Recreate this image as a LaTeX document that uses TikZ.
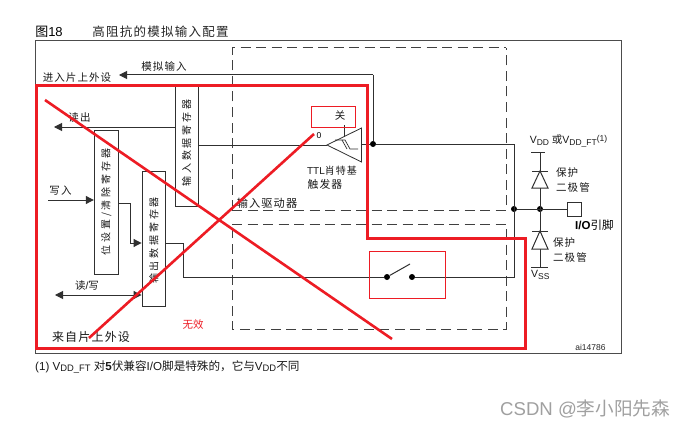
\documentclass[tikz,border=0pt]{standalone}
\usepackage{fontspec}
\setmainfont{Liberation Sans}
\newfontfamily\cjk[LetterSpace=10]{Noto Sans CJK SC}
\newfontfamily\cjkw[LetterSpace=28]{Noto Sans CJK SC}
\newfontfamily\cjkt{Noto Sans CJK SC}
\usetikzlibrary{arrows.meta}
\definecolor{redmark}{HTML}{ED1C24}
\definecolor{wire}{HTML}{303030}
\definecolor{dashc}{HTML}{404040}
\definecolor{wm}{HTML}{A0A0A0}
\tikzset{
  x=1pt,y=-1pt,
  wireline/.style={draw=wire,line width=1pt},
  arrowline/.style={wireline,-{Triangle[length=8pt,width=8pt]}},
  dualline/.style={wireline,{Triangle[length=8pt,width=8pt]}-{Triangle[length=8pt,width=8pt]}},
  dashbox/.style={draw=dashc,line width=1pt,dash pattern=on 10pt off 5.5pt},
  regbox/.style={draw=wire,line width=1pt,fill=white,rotate=90,inner sep=0pt,align=center},
  lab/.style={inner sep=0pt,font=\fontsize{10.5}{12}\selectfont\cjk,text=black!90},
  regl/.style={font=\fontsize{10}{12}\selectfont\cjkw,text=black!90},
  junc/.style={circle,fill=black,inner sep=0pt,minimum size=6pt},
  redline/.style={draw=redmark,line width=3pt,line join=miter},
}
\begin{document}
\begin{tikzpicture}
\useasboundingbox (0,0) rectangle (686,428);
\fill[white] (0,0) rectangle (686,428);
% title
\node[inner sep=0pt,font=\fontsize{13}{15}\selectfont] (figno) at (49,32) {{\cjkt 图}18};
\node[inner sep=0pt,font=\fontsize{12.5}{14}\selectfont\cjk,text=black!85] (title) at (160.5,32) {高阻抗的模拟输入配置};
% frame
\node[draw=black!70,line width=1pt,minimum width=586pt,minimum height=312pt,inner sep=0pt] (frame) at (328,197) {};
% dashed boxes
\draw[dashbox] (232,224) -- (506,224) -- (506,329) -- (232,329) -- cycle;
\draw[dashbox] (232,210) -- (232,48) -- (506,48);
\draw[dashbox] (232,210) -- (506,210) -- (506,48);
% registers
\node[regbox,regl,minimum width=120pt,minimum height=23pt] (inreg) at (186.5,146) {\hspace*{6pt}输入数据寄存器};
\node[regbox,regl,minimum width=144pt,minimum height=24pt] (setreg) at (106.3,202) {位设置/清除寄存器};
\node[regbox,regl,minimum width=135pt,minimum height=23.5pt] (outreg) at (153.8,238.5) {输出数据寄存器\hspace*{4pt}};
% coordinates
\coordinate (analogC) at (373,75);
\coordinate (readL) at (54,127);
\coordinate (writeL) at (48,200);
\coordinate (rwL) at (55,295);
\coordinate (setTurn) at (130,203);
\coordinate (setTurn2) at (130,243);
\coordinate (outTurn) at (183,243);
\coordinate (outTurn2) at (183,277);
\coordinate (busTop) at (514,144);
\coordinate (busBot) at (514,277);
\coordinate (analogEnd) at (119,75);
% junctions
\node[junc] (j1) at (373,144) {};
\node[junc] (j2) at (514,209) {};
\node[junc] (j3) at (540,209) {};
\node[junc] (s1) at (387,277) {};
\node[junc] (s2) at (412,277) {};
% trigger
\coordinate (trA) at (327,145);
\coordinate (trB) at (361.5,128);
\coordinate (trC) at (361.5,162);
\draw[wireline,line width=0.8pt] (trA) -- (trB) -- (trC) -- cycle;
% io pad
\node[draw=wire,line width=1pt,minimum size=14pt,inner sep=0pt] (pad) at (574,209) {};
% wires
\draw[arrowline] (analogC) -- (analogEnd);
\draw[wireline] (analogC) -- (j1);
\draw[wireline] (inreg.south |- trA) -- (trA);
\draw[wireline] (trC |- j1) -- (j1);
\draw[wireline] (j1) -- (busTop) -- (busBot) -- (s2);
\draw[arrowline] (inreg.north |- readL) -- (readL);
\draw[arrowline] (writeL) -- (setreg.north |- writeL);
\draw[wireline] (setreg.south |- setTurn) -- (setTurn) -- (setTurn2);
\draw[arrowline] (setTurn2) -- (outreg.north |- setTurn2);
\draw[wireline] (outreg.south |- outTurn) -- (outTurn) -- (outTurn2) -- (s1);
\draw[dualline] (rwL) -- (outreg.north |- rwL);
\draw[wireline] (j2) -- (pad.west);
\draw[wireline] (s1) -- (410,264);
% trigger symbol
\draw[wireline,line width=0.7pt] (344,125) -- (344,137);
\draw[wireline,line width=0.7pt] (335,140) -- (345,140) -- (350,149) -- (358,149);
\draw[wireline,line width=0.7pt] (342,140) -- (347,149);
% diodes
\coordinate (dTop) at (540,152);
\coordinate (dBot) at (540,267);
\draw[wireline] (dTop) -- (dBot);
\draw[wireline] (531,152) -- (545,152);
\draw[wireline] (531,267) -- (548,267);
\draw[wireline] (532,171) -- (548,171);
\draw[wireline,fill=white] (540,171) -- (532,188) -- (548,188) -- cycle;
\draw[wireline] (532,231) -- (548,231);
\draw[wireline,fill=white] (540,231) -- (532,249) -- (548,249) -- cycle;
% labels
\node[lab] (lanalog) at (164,66) {模拟输入};
\node[lab] (lperin) at (77,78) {进入片上外设};
\node[lab] (lread) at (79.5,118) {读出};
\node[lab] (lwrite) at (60.5,191) {写入};
\node[lab,font=\fontsize{10.5}{12}\selectfont] (lrw) at (87,286) {{\cjk 读}/{\cjk 写}};
\node[lab,font=\fontsize{12}{14}\selectfont\cjk] (lperout) at (91,337) {来自片上外设};
\node[lab,font=\fontsize{11.2}{13}\selectfont\cjk] (ldrv) at (267,203) {输入驱动器};
\node[inner sep=0pt,font=\fontsize{10.5}{12}\selectfont,text=redmark] (linv) at (193,325) {{\cjkt 无效}};
\node[lab,font=\fontsize{10.5}{12}\selectfont\cjkt] (loff) at (340,116) {关};
\node[inner sep=0pt,font=\fontsize{8.5}{10}\selectfont] (lzero) at (319,136) {0};
\node[inner sep=0pt,font=\fontsize{10}{12}\selectfont,text=black!90] (lttl) at (332,171) {TTL{\cjk 肖特基}};
\node[lab,font=\fontsize{10.8}{12}\selectfont\cjk] (ltrig) at (325,184) {触发器};
\node[inner sep=0pt,font=\fontsize{10.5}{12}\selectfont,text=black!90] (lvdd) at (568.5,141) {V\raisebox{-1.5pt}{\fontsize{8.5}{10}\selectfont DD} {\cjkt 或}V\raisebox{-1.5pt}{\fontsize{8.5}{10}\selectfont DD\_FT}\raisebox{2.5pt}{\fontsize{8.5}{10}\selectfont (1)}};
\node[lab,anchor=west] (lp1) at (556,173) {保护};
\node[lab,anchor=west] (ld1) at (556,187) {二极管};
\node[lab,anchor=west] (lp2) at (553,243) {保护};
\node[lab,anchor=west] (ld2) at (553,257) {二极管};
\node[inner sep=0pt,anchor=west,font=\fontsize{11.5}{13}\selectfont\bfseries] (lio) at (575,225) {I/O{\cjkt\mdseries 引脚}};
\node[inner sep=0pt,anchor=west,font=\fontsize{10.5}{12}\selectfont,text=black!90] (lvss) at (531,275) {V\raisebox{-1.5pt}{\fontsize{8.5}{10}\selectfont SS}};
\node[inner sep=0pt,font=\fontsize{8.5}{10}\selectfont,text=black!85] (lai) at (590.5,347) {ai14786};
\node[inner sep=0pt,anchor=west,font=\fontsize{11.6}{13}\selectfont,text=black!90] (lfoot) at (35,367) {(1) V\raisebox{-1.5pt}{\fontsize{9.4}{11}\selectfont DD\_FT} {\cjkt 对}\textbf{5}{\cjkt 伏兼容}I/O{\cjkt 脚是特殊的，它与}V\raisebox{-1.5pt}{\fontsize{9.4}{11}\selectfont DD}{\cjkt 不同}};
\node[inner sep=0pt,anchor=west,font=\fontsize{18.6}{20}\selectfont,text=wm] (lwm) at (500,409) {CSDN @{\cjkt 李小阳先森}};
% red overlay
\node[draw=redmark,line width=1pt,minimum width=44pt,minimum height=20pt,inner sep=0pt] (rclose) at (333.5,117) {};
\node[draw=redmark,line width=1pt,minimum width=76pt,minimum height=47pt,inner sep=0pt] (rswitch) at (407,274.5) {};
\draw[redline] (36,86) -- (367,86) -- (367,238) -- (525,238) -- (525,348) -- (36,348) -- cycle;
\draw[redline,line width=2.6pt] (45,100) -- (392,339);
\draw[redline,line width=2.6pt] (89,338) -- (314,134);
\end{tikzpicture}
\end{document}
